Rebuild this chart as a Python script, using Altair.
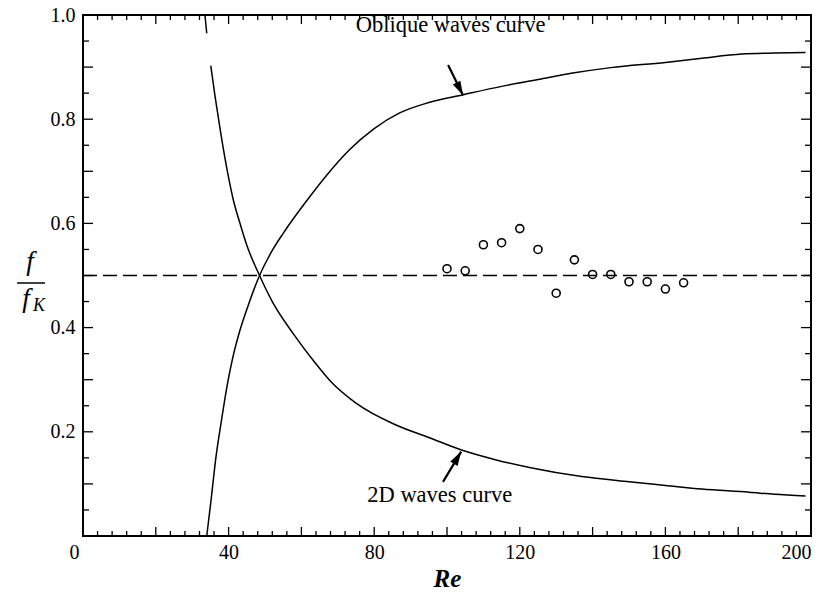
import altair as alt
import pandas as pd

# ---- data ----
oblique_re = [34.0, 35.2, 36.5, 38.0, 39.5, 41.1, 43.0, 45.5, 48.5, 52.0, 55.0, 61.4, 67.0, 73.0,
              80.0, 87.0, 95.0, 104.5, 115.0, 125.0, 135.0, 145.0, 160.0, 170.0, 181.0, 190.0, 198.5]
oblique_f = [0.0, 0.07, 0.15, 0.22, 0.285, 0.341, 0.392, 0.445, 0.50, 0.548, 0.581, 0.643, 0.693, 0.740,
             0.782, 0.812, 0.832, 0.847, 0.863, 0.876, 0.889, 0.899, 0.909, 0.917, 0.925, 0.927, 0.928]

twod_top_re = [33.5, 34.0]
twod_top_f = [1.0, 0.965]
twod_re = [35.1, 36.3, 37.8, 39.5, 41.3, 43.0, 45.0, 48.5, 52.0, 57.8, 63.7, 68.0, 75.0, 86.0, 95.0,
           104.0, 113.0, 123.0, 137.0, 150.0, 160.0, 170.0, 183.0, 190.0, 198.5]
twod_f = [0.903, 0.843, 0.775, 0.706, 0.645, 0.603, 0.558, 0.50, 0.450, 0.388, 0.333, 0.297, 0.255, 0.213,
          0.189, 0.165, 0.147, 0.131, 0.114, 0.104, 0.097, 0.090, 0.084, 0.080, 0.077]

pts_re = [100, 105, 110, 115, 120, 125, 130, 135, 140, 145, 150, 155, 160, 165]
pts_f = [0.513, 0.509, 0.559, 0.563, 0.590, 0.550, 0.466, 0.530, 0.502, 0.502, 0.488, 0.488, 0.474, 0.486]

dash_re = [0, 200]
dash_f = [0.5, 0.5]

x_label_values = [0, 40, 80, 120, 160, 200]
y_label_values = [0.2, 0.4, 0.6, 0.8, 1.0]
x_major = list(range(0, 201, 20))
x_minor = [v for v in range(0, 201, 4) if v % 20 != 0]
y_major = [round(0.1 * i, 2) for i in range(0, 11)]
y_minor = [round(0.05 + 0.1 * i, 2) for i in range(0, 10)]

# annotations (data coordinates)
ann_text = ["Oblique waves curve", "2D waves curve"]
ann_re = [101.0, 98.0]
ann_f = [0.981, 0.079]
arrow_tail_re = [100.3, 98.9]
arrow_tail_f = [0.904, 0.104]
arrow_tip_re = [104.4, 103.9]
arrow_tip_f = [0.846, 0.162]
arrow_angle = [153, 31]

W, H = 728, 521
FONT = "Liberation Serif, Times New Roman, serif"

xs = alt.Scale(domain=[0, 200], nice=False, zero=False)
ys = alt.Scale(domain=[0, 1], nice=False, zero=False)

x_axis = alt.Axis(
    values=x_label_values, ticks=False, domain=False, grid=False,
    labelFont=FONT, labelFontSize=20, labelColor="black", labelPadding=6,
    labelOffset={"condition": {"test": "datum.value === 0", "value": -14}, "value": 0},
    title="Re", titleFont=FONT, titleFontSize=25, titleFontStyle="italic",
    titleFontWeight="bold", titleColor="black", titlePadding=4,
)
y_axis = alt.Axis(
    values=y_label_values, format=".1f", ticks=False, domain=False, grid=False,
    labelFont=FONT, labelFontSize=20, labelColor="black", labelPadding=8, title=None,
)

def X(field):
    return alt.X(field, scale=xs, axis=x_axis)

def Y(field):
    return alt.Y(field, scale=ys, axis=y_axis)

df_obl = pd.DataFrame({"Re": oblique_re, "f": oblique_f, "i": range(len(oblique_re))})
df_2d = pd.DataFrame({
    "Re": twod_top_re + twod_re,
    "f": twod_top_f + twod_f,
    "seg": ["a"] * len(twod_top_re) + ["b"] * len(twod_re),
    "i": range(len(twod_top_re) + len(twod_re)),
})
df_pts = pd.DataFrame({"Re": pts_re, "f": pts_f})
df_dash = pd.DataFrame({"Re": dash_re, "f": dash_f})

dash_layer = alt.Chart(df_dash).mark_line(
    color="black", strokeWidth=1.3, strokeDash=[14, 6]
).encode(x=X("Re:Q"), y=Y("f:Q"))

obl_layer = alt.Chart(df_obl).mark_line(
    color="black", strokeWidth=1.5, interpolate="monotone"
).encode(x=X("Re:Q"), y=Y("f:Q"), order="i:Q")

twod_layer = alt.Chart(df_2d).mark_line(
    color="black", strokeWidth=1.5, interpolate="monotone"
).encode(x=X("Re:Q"), y=Y("f:Q"), detail="seg:N", order="i:Q")

pts_layer = alt.Chart(df_pts).mark_point(
    shape="circle", filled=False, color="black", size=64, strokeWidth=1.6, opacity=1
).encode(x=X("Re:Q"), y=Y("f:Q"))

df_ann = pd.DataFrame({"t": ann_text, "Re": ann_re, "f": ann_f})
ann_layer = alt.Chart(df_ann).mark_text(
    font=FONT, fontSize=22.5, color="black", align="center", baseline="middle"
).encode(x=X("Re:Q"), y=Y("f:Q"), text="t:N")

df_arr = pd.DataFrame({
    "x1": arrow_tail_re, "y1": arrow_tail_f, "x2": arrow_tip_re, "y2": arrow_tip_f,
    "ang": arrow_angle,
})
arr_shaft = alt.Chart(df_arr).mark_rule(color="black", strokeWidth=2.2).encode(
    x=X("x1:Q"), y=Y("y1:Q"), x2="x2:Q", y2="y2:Q",
)
arr_head = alt.Chart(df_arr).mark_point(
    shape="M0,0L0.3,1L-0.3,1Z", filled=True, color="black", size=800, opacity=1
).encode(
    x=X("x2:Q"), y=Y("y2:Q"),
    angle=alt.Angle("ang:Q", scale=None),
)

# inward ticks on all four sides
df_xM = pd.DataFrame({"v": x_major})
df_xm = pd.DataFrame({"v": x_minor})
df_yM = pd.DataFrame({"v": y_major})
df_ym = pd.DataFrame({"v": y_minor})

def xticks(df, y0, y1):
    return alt.Chart(df).mark_rule(color="black", strokeWidth=1.3).encode(
        x=X("v:Q"), y=alt.value(y0), y2=alt.value(y1)
    )

def yticks(df, x0, x1):
    return alt.Chart(df).mark_rule(color="black", strokeWidth=1.3).encode(
        y=Y("v:Q"), x=alt.value(x0), x2=alt.value(x1)
    )

tick_layers = [
    xticks(df_xM, H, H - 9), xticks(df_xm, H, H - 5),
    xticks(df_xM, 0, 9), xticks(df_xm, 0, 5),
    yticks(df_yM, 0, 10), yticks(df_ym, 0, 6),
    yticks(df_yM, W, W - 10), yticks(df_ym, W, W - 6),
]

# y-axis label: f / f_K
df_one = pd.DataFrame({"a": [0]})
ylab_top = alt.Chart(df_one).mark_text(
    text="f", font=FONT, fontSize=27, fontStyle="italic", color="black",
    align="center", baseline="middle"
).encode(x=alt.value(-53), y=alt.value(247))
ylab_bar = alt.Chart(df_one).mark_rule(color="black", strokeWidth=1.5).encode(
    x=alt.value(-66), x2=alt.value(-38), y=alt.value(268)
)
ylab_bot = alt.Chart(df_one).mark_text(
    text="f", font=FONT, fontSize=27, fontStyle="italic", color="black",
    align="center", baseline="middle"
).encode(x=alt.value(-57), y=alt.value(284))
ylab_sub = alt.Chart(df_one).mark_text(
    text="K", font=FONT, fontSize=18, fontStyle="italic", color="black",
    align="center", baseline="middle"
).encode(x=alt.value(-44), y=alt.value(291))

chart = alt.layer(
    dash_layer, obl_layer, twod_layer, pts_layer, ann_layer, arr_shaft, arr_head,
    *tick_layers, ylab_top, ylab_bar, ylab_bot, ylab_sub,
).properties(
    width=W, height=H,
    autosize=alt.AutoSizeParams(type="none"),
    padding={"left": 83, "top": 15, "right": 15, "bottom": 57},
    background="white",
).configure_view(
    stroke="black", strokeWidth=2
).configure_axis(
    labelFont=FONT, titleFont=FONT, labelColor="black", titleColor="black"
).configure_text(font=FONT)

chart.save("out.html", embed_options={"renderer": "svg", "actions": False})
